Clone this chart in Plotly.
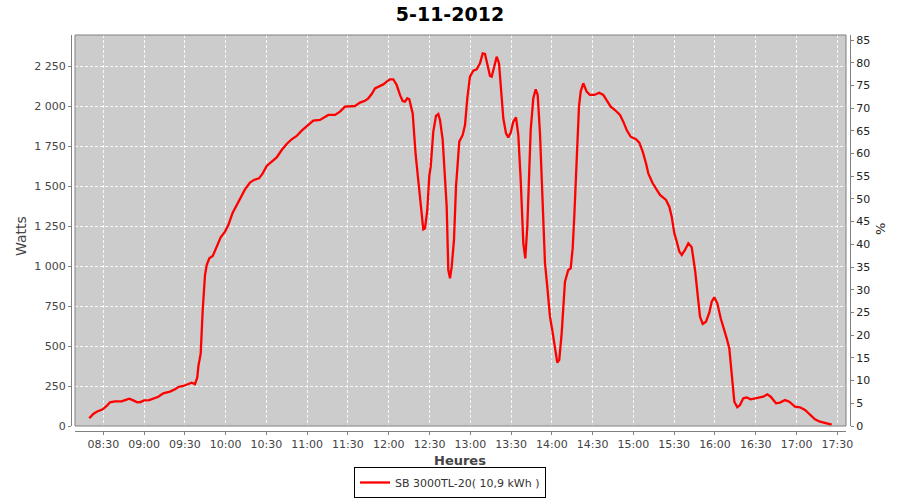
import plotly.graph_objects as go

DATE = "2012-11-05"
TITLE = "5-11-2012"
SERIES_NAME = "SB 3000TL-20( 10,9 kWh )"

times = [
    "08:19:42", "08:22:38", "08:25:09", "08:29:34", "08:32:30", "08:34:56", "08:38:36", "08:43:32",
    "08:46:00", "08:49:08", "08:52:04", "08:55:00", "08:57:30", "08:59:56", "09:03:50", "09:06:47",
    "09:10:28", "09:14:08", "09:19:04", "09:22:45", "09:25:10", "09:28:51", "09:32:32", "09:35:02",
    "09:37:28", "09:39:10", "09:39:54", "09:41:40", "09:43:08", "09:44:50", "09:46:05", "09:48:00",
    "09:50:29", "09:53:26", "09:56:22", "09:59:32", "10:01:58", "10:05:12", "10:08:09", "10:11:50",
    "10:14:15", "10:17:55", "10:20:52", "10:24:33", "10:27:16", "10:30:13", "10:33:54", "10:37:34",
    "10:41:15", "10:44:55", "10:48:36", "10:52:17", "10:55:57", "10:59:38", "11:04:29", "11:09:25",
    "11:13:06", "11:15:32", "11:20:27", "11:24:08", "11:27:49", "11:31:30", "11:35:10", "11:38:51",
    "11:42:32", "11:44:57", "11:47:27", "11:49:53", "11:53:34", "11:55:59", "11:58:29", "12:00:55",
    "12:03:21", "12:05:51", "12:08:16", "12:10:15", "12:11:57", "12:13:38", "12:15:07", "12:17:37",
    "12:19:49", "12:21:44", "12:23:30", "12:25:25", "12:26:40", "12:28:22", "12:29:50", "12:30:52",
    "12:32:47", "12:34:46", "12:36:27", "12:37:42", "12:39:41", "12:40:39", "12:42:38", "12:43:49",
    "12:45:04", "12:46:19", "12:48:00", "12:49:29", "12:50:26", "12:51:54", "12:54:24", "12:56:06",
    "12:57:47", "12:59:46", "13:02:12", "13:04:42", "13:07:08", "13:09:07", "13:10:49", "13:12:31",
    "13:14:30", "13:15:45", "13:17:26", "13:19:25", "13:21:07", "13:22:35", "13:24:17", "13:26:16",
    "13:27:57", "13:29:43", "13:31:38", "13:33:37", "13:35:19", "13:37:05", "13:39:00", "13:40:28",
    "13:41:56", "13:44:26", "13:46:21", "13:48:07", "13:49:35", "13:51:16", "13:53:15", "13:54:57",
    "13:56:38", "13:58:37", "14:00:18", "14:02:17", "14:03:59", "14:05:27", "14:07:13", "14:09:39",
    "14:12:05", "14:13:51", "14:15:19", "14:16:30", "14:18:16", "14:19:57", "14:21:12", "14:23:07",
    "14:25:37", "14:28:03", "14:31:13", "14:34:54", "14:37:50", "14:40:20", "14:43:17", "14:46:27",
    "14:50:08", "14:52:33", "14:55:03", "14:58:00", "15:01:54", "15:04:20", "15:06:50", "15:09:15",
    "15:10:57", "15:14:11", "15:17:08", "15:19:34", "15:23:59", "15:26:25", "15:28:11", "15:30:06",
    "15:31:52", "15:33:47", "15:35:33", "15:37:58", "15:40:24", "15:42:54", "15:45:20", "15:47:01",
    "15:49:00", "15:50:59", "15:53:24", "15:55:50", "15:57:36", "15:59:31", "16:01:43", "16:04:13",
    "16:06:39", "16:08:38", "16:10:33", "16:12:19", "16:14:14", "16:16:26", "16:18:25", "16:20:51",
    "16:23:21", "16:26:17", "16:29:27", "16:33:08", "16:35:33", "16:38:30", "16:41:00", "16:44:54",
    "16:47:51", "16:51:31", "16:54:41", "16:58:52", "17:02:33", "17:06:14", "17:09:54", "17:13:35",
    "17:17:15", "17:22:10", "17:25:52",
]

watts = [
    48, 75, 89, 104, 125, 148, 154, 154,
    162, 171, 160, 148, 150, 160, 162, 171,
    183, 204, 215, 229, 244, 250, 260, 271,
    262, 304, 371, 454, 725, 944, 1006, 1048,
    1062, 1121, 1179, 1215, 1256, 1333, 1381, 1433,
    1479, 1521, 1538, 1548, 1579, 1625, 1652, 1679,
    1725, 1763, 1792, 1813, 1846, 1875, 1908, 1913,
    1929, 1944, 1944, 1965, 1996, 2000, 2000, 2021,
    2033, 2048, 2075, 2110, 2125, 2135, 2152, 2167,
    2167, 2131, 2069, 2031, 2027, 2048, 2042, 1954,
    1694, 1538, 1350, 1229, 1235, 1350, 1563, 1621,
    1840, 1938, 1950, 1913, 1788, 1663, 1371, 975,
    923, 996, 1163, 1496, 1638, 1777, 1819, 1881,
    2048, 2183, 2221, 2229, 2267, 2329, 2325, 2267,
    2188, 2183, 2246, 2308, 2267, 2090, 1923, 1829,
    1804, 1833, 1902, 1929, 1819, 1538, 1142, 1048,
    1246, 1850, 2048, 2104, 2069, 1829, 1433, 1017,
    871, 683, 600, 496, 396, 413, 579, 902,
    975, 985, 1110, 1308, 1663, 1996, 2090, 2142,
    2090, 2069, 2069, 2083, 2069, 2038, 1996, 1975,
    1944, 1902, 1850, 1808, 1792, 1771, 1715, 1642,
    1579, 1517, 1475, 1444, 1413, 1371, 1308, 1204,
    1152, 1090, 1069, 1100, 1142, 1117, 975, 819,
    683, 638, 652, 708, 777, 804, 767, 673,
    610, 548, 485, 329, 152, 117, 131, 173,
    179, 167, 173, 179, 183, 198, 183, 142,
    146, 162, 152, 121, 117, 100, 69, 42,
    27, 17, 8,
]

watt_ticks = [0, 250, 500, 750, 1000, 1250, 1500, 1750, 2000, 2250]
watt_labels = ["0", "250", "500", "750", "1 000", "1 250", "1 500", "1 750", "2 000", "2 250"]
pct_ticks = [0, 5, 10, 15, 20, 25, 30, 35, 40, 45, 50, 55, 60, 65, 70, 75, 80, 85]

x_range = [DATE + " 08:09:11", DATE + " 17:36:24"]
y_range = [0, 2443.75]
y2_range = [0, 86.1]

FONT = "DejaVu Sans"
x_vals = [DATE + " " + t for t in times]

fig = go.Figure()
fig.add_trace(go.Scatter(
    x=x_vals, y=watts, mode="lines", name=SERIES_NAME,
    line=dict(color="#FF0000", width=2.3),
))
fig.add_trace(go.Scatter(x=[x_vals[0]], y=[None], yaxis="y2", mode="lines",
                         showlegend=False, hoverinfo="skip"))

W, H = 900, 500
# paper spans page x 71..850, y 35..431
PW, PH = 779.0, 396.0
xd0, xd1 = (75 - 71) / PW, (846 - 71) / PW
yd0 = (431 - 426) / PH

axcol = "#808080"
grid = dict(showgrid=True, gridcolor="rgba(255,255,255,0.85)", gridwidth=1, griddash="3px,2px")

fig.update_layout(
    width=W, height=H, autosize=False,
    margin=dict(l=71, r=W - 850, t=35, b=H - 431, pad=0, autoexpand=False),
    paper_bgcolor="white", plot_bgcolor="#CCCCCC",
    font=dict(family=FONT, size=11, color="#444444"),
    title=dict(text="<b>" + TITLE + "</b>", x=450 / W, xref="container", xanchor="center",
               y=1 - 14 / H, yref="container", yanchor="middle",
               font=dict(family=FONT, size=19, color="black")),
    xaxis=dict(domain=[xd0, xd1], range=x_range, type="date", anchor="free", position=0,
               tickformat="%H:%M", tick0=DATE + " 08:30:00", dtick=1800000,
               showline=True, linecolor=axcol, linewidth=1, automargin=False,
               ticks="outside", ticklen=3, tickcolor=axcol,
               tickfont=dict(family=FONT, size=11, color="#444444"),
               zeroline=False, **grid),
    yaxis=dict(domain=[yd0, 1], range=y_range, anchor="free", position=0,
               tickvals=watt_ticks, ticktext=watt_labels, automargin=False,
               showline=True, linecolor=axcol, linewidth=1,
               ticks="outside", ticklen=3, tickcolor=axcol,
               tickfont=dict(family=FONT, size=11, color="#444444"),
               zeroline=False, **grid),
    yaxis2=dict(domain=[yd0, 1], range=y2_range, overlaying="y", side="right",
                anchor="free", position=1, tickvals=pct_ticks, automargin=False,
                showline=True, linecolor=axcol, linewidth=1,
                ticks="outside", ticklen=3, tickcolor=axcol,
                tickfont=dict(family=FONT, size=11, color="#222222"),
                showgrid=False, zeroline=False),
    legend=dict(orientation="h", xref="container", yref="container",
                x=450 / W, xanchor="center", y=(500 - 498) / H, yanchor="bottom",
                bordercolor="black", borderwidth=1, bgcolor="white",
                font=dict(family=FONT, size=11, color="#333333"),
                itemwidth=30),
    showlegend=True,
    shapes=[dict(type="rect", xref="paper", yref="paper", x0=xd0, x1=xd1, y0=yd0, y1=1,
                 line=dict(color=axcol, width=1), layer="above")],
    annotations=[
        dict(text="Watts", xref="paper", yref="paper", x=(21 - 71) / PW,
             y=(431 - 236) / PH, textangle=-90, showarrow=False,
             font=dict(family=FONT, size=14, color="#444444"), xanchor="center", yanchor="middle"),
        dict(text="<b>Heures</b>", xref="paper", yref="paper", x=(460 - 71) / PW,
             y=(431 - 460) / PH, showarrow=False,
             font=dict(family=FONT, size=13, color="#444444"), xanchor="center", yanchor="middle"),
        dict(text="%", xref="paper", yref="paper", x=(880 - 71) / PW,
             y=(431 - 229) / PH, textangle=-90, showarrow=False,
             font=dict(family=FONT, size=13, color="#222222"), xanchor="center", yanchor="middle"),
    ],
)

fig.write_html("out.html",
               config={"displayModeBar": False, "staticPlot": True},
               post_script="document.body.style.margin='0';document.body.style.overflow='hidden';")
